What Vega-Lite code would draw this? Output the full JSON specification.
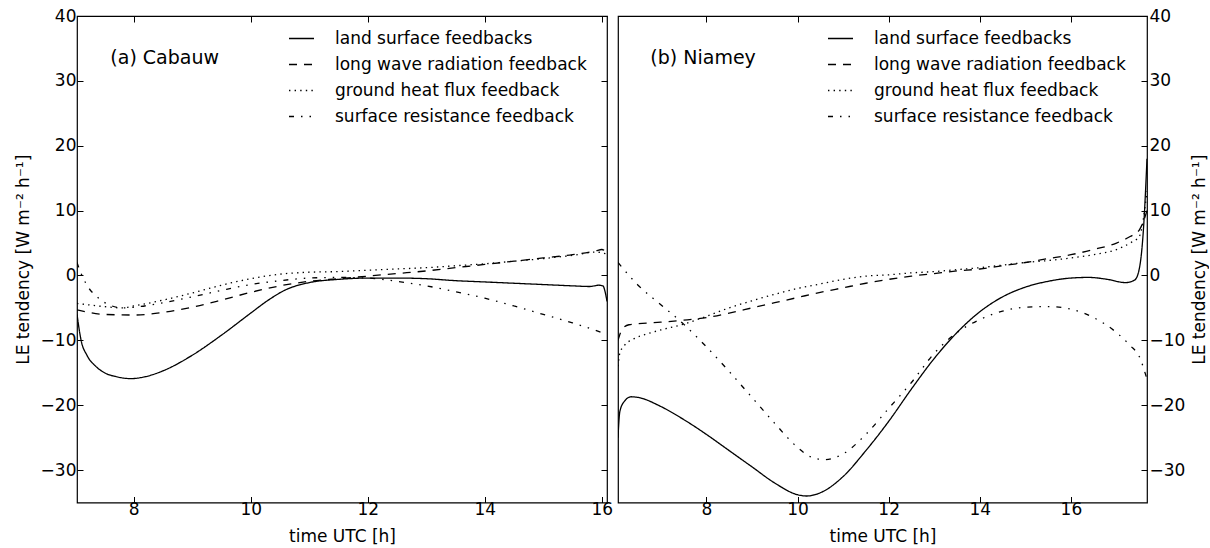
{
  "$schema": "https://vega.github.io/schema/vega-lite/v6.json",
  "background": "white",
  "padding": {"left": 13, "top": 6, "right": 0, "bottom": 0},
  "spacing": 11,
  "bounds": "flush",
  "config": {
    "font": "DejaVu Sans",
    "view": {"stroke": "black", "strokeWidth": 1.2},
    "axis": {"domain": false, "grid": false, "tickColor": "black", "tickSize": -6, "tickWidth": 1, "labelFontSize": 17, "labelColor": "black", "titleFontSize": 17, "titleFontWeight": "normal", "titleColor": "black", "labelFont": "DejaVu Sans", "titleFont": "DejaVu Sans"},
    "legend": {"labelFontSize": 17, "labelFont": "DejaVu Sans", "labelColor": "black", "labelLimit": 0}
  },
  "datasets": {
    "cab": [
      {"s": "land surface feedbacks", "t": 7.03, "v": -6.0},
      {"s": "land surface feedbacks", "t": 7.1, "v": -10.0},
      {"s": "land surface feedbacks", "t": 7.2, "v": -12.3},
      {"s": "land surface feedbacks", "t": 7.35, "v": -14.0},
      {"s": "land surface feedbacks", "t": 7.5, "v": -15.0},
      {"s": "land surface feedbacks", "t": 7.7, "v": -15.6},
      {"s": "land surface feedbacks", "t": 7.95, "v": -15.9},
      {"s": "land surface feedbacks", "t": 8.2, "v": -15.6},
      {"s": "land surface feedbacks", "t": 8.5, "v": -14.7},
      {"s": "land surface feedbacks", "t": 9.0, "v": -12.3},
      {"s": "land surface feedbacks", "t": 9.5, "v": -9.2},
      {"s": "land surface feedbacks", "t": 10.0, "v": -5.8},
      {"s": "land surface feedbacks", "t": 10.3, "v": -3.8},
      {"s": "land surface feedbacks", "t": 10.6, "v": -2.2},
      {"s": "land surface feedbacks", "t": 11.0, "v": -1.1},
      {"s": "land surface feedbacks", "t": 11.5, "v": -0.6},
      {"s": "land surface feedbacks", "t": 12.0, "v": -0.4},
      {"s": "land surface feedbacks", "t": 12.5, "v": -0.4},
      {"s": "land surface feedbacks", "t": 13.0, "v": -0.5},
      {"s": "land surface feedbacks", "t": 13.5, "v": -0.8},
      {"s": "land surface feedbacks", "t": 14.0, "v": -1.0},
      {"s": "land surface feedbacks", "t": 14.5, "v": -1.2},
      {"s": "land surface feedbacks", "t": 15.0, "v": -1.4},
      {"s": "land surface feedbacks", "t": 15.5, "v": -1.6},
      {"s": "land surface feedbacks", "t": 15.8, "v": -1.7},
      {"s": "land surface feedbacks", "t": 15.95, "v": -1.5},
      {"s": "land surface feedbacks", "t": 16.02, "v": -1.6},
      {"s": "land surface feedbacks", "t": 16.06, "v": -2.6},
      {"s": "land surface feedbacks", "t": 16.09, "v": -4.0},
      {"s": "long wave radiation feedback", "t": 7.03, "v": -5.3},
      {"s": "long wave radiation feedback", "t": 7.5, "v": -6.0},
      {"s": "long wave radiation feedback", "t": 8.0, "v": -6.1},
      {"s": "long wave radiation feedback", "t": 8.5, "v": -5.7},
      {"s": "long wave radiation feedback", "t": 9.0, "v": -4.9},
      {"s": "long wave radiation feedback", "t": 9.5, "v": -3.8},
      {"s": "long wave radiation feedback", "t": 10.0, "v": -2.6},
      {"s": "long wave radiation feedback", "t": 10.5, "v": -1.6},
      {"s": "long wave radiation feedback", "t": 11.0, "v": -0.9},
      {"s": "long wave radiation feedback", "t": 11.5, "v": -0.5},
      {"s": "long wave radiation feedback", "t": 12.0, "v": -0.1},
      {"s": "long wave radiation feedback", "t": 12.5, "v": 0.3},
      {"s": "long wave radiation feedback", "t": 13.0, "v": 0.7},
      {"s": "long wave radiation feedback", "t": 13.5, "v": 1.2},
      {"s": "long wave radiation feedback", "t": 14.0, "v": 1.7},
      {"s": "long wave radiation feedback", "t": 14.5, "v": 2.2},
      {"s": "long wave radiation feedback", "t": 15.0, "v": 2.7},
      {"s": "long wave radiation feedback", "t": 15.5, "v": 3.2},
      {"s": "long wave radiation feedback", "t": 15.9, "v": 3.8},
      {"s": "long wave radiation feedback", "t": 16.0, "v": 4.0},
      {"s": "long wave radiation feedback", "t": 16.09, "v": 3.6},
      {"s": "ground heat flux feedback", "t": 7.03, "v": -4.3},
      {"s": "ground heat flux feedback", "t": 7.5, "v": -4.8},
      {"s": "ground heat flux feedback", "t": 7.8, "v": -5.0},
      {"s": "ground heat flux feedback", "t": 8.0, "v": -4.7},
      {"s": "ground heat flux feedback", "t": 8.5, "v": -3.8},
      {"s": "ground heat flux feedback", "t": 9.0, "v": -2.7},
      {"s": "ground heat flux feedback", "t": 9.5, "v": -1.5},
      {"s": "ground heat flux feedback", "t": 10.0, "v": -0.5},
      {"s": "ground heat flux feedback", "t": 10.5, "v": 0.2},
      {"s": "ground heat flux feedback", "t": 11.0, "v": 0.5},
      {"s": "ground heat flux feedback", "t": 11.5, "v": 0.6},
      {"s": "ground heat flux feedback", "t": 12.0, "v": 0.8},
      {"s": "ground heat flux feedback", "t": 12.5, "v": 1.0},
      {"s": "ground heat flux feedback", "t": 13.0, "v": 1.2},
      {"s": "ground heat flux feedback", "t": 13.5, "v": 1.5},
      {"s": "ground heat flux feedback", "t": 14.0, "v": 1.8},
      {"s": "ground heat flux feedback", "t": 14.5, "v": 2.2},
      {"s": "ground heat flux feedback", "t": 15.0, "v": 2.6},
      {"s": "ground heat flux feedback", "t": 15.5, "v": 3.1},
      {"s": "ground heat flux feedback", "t": 15.9, "v": 3.6},
      {"s": "ground heat flux feedback", "t": 16.09, "v": 3.3},
      {"s": "surface resistance feedback", "t": 7.03, "v": 2.0},
      {"s": "surface resistance feedback", "t": 7.1, "v": 0.3},
      {"s": "surface resistance feedback", "t": 7.2, "v": -1.5},
      {"s": "surface resistance feedback", "t": 7.4, "v": -3.5},
      {"s": "surface resistance feedback", "t": 7.6, "v": -4.6},
      {"s": "surface resistance feedback", "t": 7.8, "v": -5.0},
      {"s": "surface resistance feedback", "t": 8.0, "v": -4.9},
      {"s": "surface resistance feedback", "t": 8.5, "v": -4.2},
      {"s": "surface resistance feedback", "t": 9.0, "v": -3.3},
      {"s": "surface resistance feedback", "t": 9.5, "v": -2.3},
      {"s": "surface resistance feedback", "t": 10.0, "v": -1.4},
      {"s": "surface resistance feedback", "t": 10.5, "v": -0.8},
      {"s": "surface resistance feedback", "t": 11.0, "v": -0.4},
      {"s": "surface resistance feedback", "t": 11.5, "v": -0.3},
      {"s": "surface resistance feedback", "t": 12.0, "v": -0.4},
      {"s": "surface resistance feedback", "t": 12.5, "v": -0.9},
      {"s": "surface resistance feedback", "t": 13.0, "v": -1.6},
      {"s": "surface resistance feedback", "t": 13.5, "v": -2.5},
      {"s": "surface resistance feedback", "t": 14.0, "v": -3.5},
      {"s": "surface resistance feedback", "t": 14.5, "v": -4.7},
      {"s": "surface resistance feedback", "t": 15.0, "v": -6.0},
      {"s": "surface resistance feedback", "t": 15.5, "v": -7.3},
      {"s": "surface resistance feedback", "t": 16.0, "v": -8.8},
      {"s": "surface resistance feedback", "t": 16.09, "v": -9.1}
    ],
    "nia": [
      {"s": "land surface feedbacks", "t": 6.06, "v": -25.0},
      {"s": "land surface feedbacks", "t": 6.1, "v": -21.0},
      {"s": "land surface feedbacks", "t": 6.2, "v": -19.4},
      {"s": "land surface feedbacks", "t": 6.35, "v": -18.7},
      {"s": "land surface feedbacks", "t": 6.5, "v": -18.8},
      {"s": "land surface feedbacks", "t": 7.0, "v": -20.2},
      {"s": "land surface feedbacks", "t": 7.5, "v": -22.2},
      {"s": "land surface feedbacks", "t": 8.0, "v": -24.5},
      {"s": "land surface feedbacks", "t": 8.5, "v": -27.0},
      {"s": "land surface feedbacks", "t": 9.0, "v": -29.5},
      {"s": "land surface feedbacks", "t": 9.5, "v": -32.0},
      {"s": "land surface feedbacks", "t": 10.0, "v": -33.8},
      {"s": "land surface feedbacks", "t": 10.2, "v": -34.0},
      {"s": "land surface feedbacks", "t": 10.5, "v": -33.5},
      {"s": "land surface feedbacks", "t": 11.0, "v": -31.0},
      {"s": "land surface feedbacks", "t": 11.5, "v": -27.0},
      {"s": "land surface feedbacks", "t": 12.0, "v": -22.5},
      {"s": "land surface feedbacks", "t": 12.5, "v": -17.5},
      {"s": "land surface feedbacks", "t": 13.0, "v": -12.8},
      {"s": "land surface feedbacks", "t": 13.5, "v": -8.8},
      {"s": "land surface feedbacks", "t": 14.0, "v": -5.6},
      {"s": "land surface feedbacks", "t": 14.5, "v": -3.3},
      {"s": "land surface feedbacks", "t": 15.0, "v": -1.8},
      {"s": "land surface feedbacks", "t": 15.5, "v": -0.9},
      {"s": "land surface feedbacks", "t": 16.0, "v": -0.4},
      {"s": "land surface feedbacks", "t": 16.4, "v": -0.3},
      {"s": "land surface feedbacks", "t": 16.8, "v": -0.6},
      {"s": "land surface feedbacks", "t": 17.2, "v": -1.1},
      {"s": "land surface feedbacks", "t": 17.4, "v": -0.7},
      {"s": "land surface feedbacks", "t": 17.5, "v": 1.0},
      {"s": "land surface feedbacks", "t": 17.6, "v": 8.0},
      {"s": "land surface feedbacks", "t": 17.67, "v": 18.0},
      {"s": "long wave radiation feedback", "t": 6.06, "v": -10.0},
      {"s": "long wave radiation feedback", "t": 6.15, "v": -8.3},
      {"s": "long wave radiation feedback", "t": 6.3, "v": -7.6},
      {"s": "long wave radiation feedback", "t": 7.0, "v": -7.2},
      {"s": "long wave radiation feedback", "t": 7.5, "v": -6.9},
      {"s": "long wave radiation feedback", "t": 8.0, "v": -6.5},
      {"s": "long wave radiation feedback", "t": 8.5, "v": -5.8},
      {"s": "long wave radiation feedback", "t": 9.0, "v": -5.0},
      {"s": "long wave radiation feedback", "t": 9.5, "v": -4.2},
      {"s": "long wave radiation feedback", "t": 10.0, "v": -3.4},
      {"s": "long wave radiation feedback", "t": 10.5, "v": -2.6},
      {"s": "long wave radiation feedback", "t": 11.0, "v": -1.9},
      {"s": "long wave radiation feedback", "t": 11.5, "v": -1.2},
      {"s": "long wave radiation feedback", "t": 12.0, "v": -0.6},
      {"s": "long wave radiation feedback", "t": 12.5, "v": -0.1},
      {"s": "long wave radiation feedback", "t": 13.0, "v": 0.3},
      {"s": "long wave radiation feedback", "t": 13.5, "v": 0.7},
      {"s": "long wave radiation feedback", "t": 14.0, "v": 1.0},
      {"s": "long wave radiation feedback", "t": 14.5, "v": 1.5},
      {"s": "long wave radiation feedback", "t": 15.0, "v": 2.0},
      {"s": "long wave radiation feedback", "t": 15.5, "v": 2.6},
      {"s": "long wave radiation feedback", "t": 16.0, "v": 3.2},
      {"s": "long wave radiation feedback", "t": 16.5, "v": 4.0},
      {"s": "long wave radiation feedback", "t": 17.0, "v": 5.0},
      {"s": "long wave radiation feedback", "t": 17.3, "v": 6.0},
      {"s": "long wave radiation feedback", "t": 17.5, "v": 7.0},
      {"s": "long wave radiation feedback", "t": 17.6, "v": 8.5},
      {"s": "long wave radiation feedback", "t": 17.67, "v": 10.0},
      {"s": "ground heat flux feedback", "t": 6.06, "v": -14.0},
      {"s": "ground heat flux feedback", "t": 6.1, "v": -12.0},
      {"s": "ground heat flux feedback", "t": 6.2, "v": -10.8},
      {"s": "ground heat flux feedback", "t": 6.4, "v": -9.8},
      {"s": "ground heat flux feedback", "t": 6.7, "v": -9.0},
      {"s": "ground heat flux feedback", "t": 7.0, "v": -8.4},
      {"s": "ground heat flux feedback", "t": 7.5, "v": -7.5},
      {"s": "ground heat flux feedback", "t": 8.0, "v": -6.3},
      {"s": "ground heat flux feedback", "t": 8.5, "v": -5.0},
      {"s": "ground heat flux feedback", "t": 9.0, "v": -3.9},
      {"s": "ground heat flux feedback", "t": 9.5, "v": -2.9},
      {"s": "ground heat flux feedback", "t": 10.0, "v": -2.0},
      {"s": "ground heat flux feedback", "t": 10.5, "v": -1.3},
      {"s": "ground heat flux feedback", "t": 11.0, "v": -0.6},
      {"s": "ground heat flux feedback", "t": 11.5, "v": -0.1},
      {"s": "ground heat flux feedback", "t": 12.0, "v": 0.1},
      {"s": "ground heat flux feedback", "t": 12.5, "v": 0.4},
      {"s": "ground heat flux feedback", "t": 13.0, "v": 0.6},
      {"s": "ground heat flux feedback", "t": 13.5, "v": 0.9},
      {"s": "ground heat flux feedback", "t": 14.0, "v": 1.2},
      {"s": "ground heat flux feedback", "t": 14.5, "v": 1.6},
      {"s": "ground heat flux feedback", "t": 15.0, "v": 2.0},
      {"s": "ground heat flux feedback", "t": 15.5, "v": 2.3},
      {"s": "ground heat flux feedback", "t": 16.0, "v": 2.7},
      {"s": "ground heat flux feedback", "t": 16.5, "v": 3.2},
      {"s": "ground heat flux feedback", "t": 17.0, "v": 4.0},
      {"s": "ground heat flux feedback", "t": 17.3, "v": 5.0},
      {"s": "ground heat flux feedback", "t": 17.5, "v": 6.0},
      {"s": "ground heat flux feedback", "t": 17.67, "v": 13.0},
      {"s": "surface resistance feedback", "t": 6.06, "v": 2.0},
      {"s": "surface resistance feedback", "t": 6.5, "v": -1.5},
      {"s": "surface resistance feedback", "t": 7.0, "v": -4.5},
      {"s": "surface resistance feedback", "t": 7.5, "v": -7.5},
      {"s": "surface resistance feedback", "t": 8.0, "v": -11.0},
      {"s": "surface resistance feedback", "t": 8.5, "v": -14.8},
      {"s": "surface resistance feedback", "t": 9.0, "v": -18.8},
      {"s": "surface resistance feedback", "t": 9.5, "v": -22.8},
      {"s": "surface resistance feedback", "t": 10.0, "v": -26.5},
      {"s": "surface resistance feedback", "t": 10.3, "v": -28.0},
      {"s": "surface resistance feedback", "t": 10.6, "v": -28.4},
      {"s": "surface resistance feedback", "t": 11.0, "v": -27.5},
      {"s": "surface resistance feedback", "t": 11.5, "v": -24.5},
      {"s": "surface resistance feedback", "t": 12.0, "v": -20.5},
      {"s": "surface resistance feedback", "t": 12.5, "v": -16.5},
      {"s": "surface resistance feedback", "t": 13.0, "v": -12.0},
      {"s": "surface resistance feedback", "t": 13.5, "v": -8.8},
      {"s": "surface resistance feedback", "t": 14.0, "v": -6.8},
      {"s": "surface resistance feedback", "t": 14.5, "v": -5.5},
      {"s": "surface resistance feedback", "t": 15.0, "v": -4.9},
      {"s": "surface resistance feedback", "t": 15.5, "v": -4.8},
      {"s": "surface resistance feedback", "t": 16.0, "v": -5.2},
      {"s": "surface resistance feedback", "t": 16.5, "v": -6.5},
      {"s": "surface resistance feedback", "t": 17.0, "v": -8.8},
      {"s": "surface resistance feedback", "t": 17.3, "v": -10.8},
      {"s": "surface resistance feedback", "t": 17.5, "v": -12.5},
      {"s": "surface resistance feedback", "t": 17.67, "v": -16.0}
    ]
  },
  "hconcat": [
    {
      "width": 530,
      "height": 486.5,
      "layer": [
        {
          "data": {"name": "cab"},
          "mark": {"type": "line", "color": "black", "strokeWidth": 1.3, "clip": true, "interpolate": "monotone"},
          "encoding": {
            "x": {"field": "t", "type": "quantitative", "scale": {"domain": [7.03, 16.09], "nice": false, "zero": false}, "axis": {"orient": "bottom", "values": [8, 10, 12, 14, 16], "title": "time UTC [h]", "labelPadding": 5, "titlePadding": 11}},
            "y": {"field": "v", "type": "quantitative", "scale": {"domain": [-35, 40], "nice": false}, "axis": {"orient": "left", "values": [-30, -20, -10, 0, 10, 20, 30, 40], "title": "LE tendency [W m⁻² h⁻¹]", "labelPadding": 7, "titlePadding": 8}},
            "strokeDash": {"field": "s", "type": "nominal", "scale": {"domain": ["land surface feedbacks", "long wave radiation feedback", "ground heat flux feedback", "surface resistance feedback"], "range": [[1, 0], [8, 7], [1.4, 4.2], [5, 7, 1.5, 7, 1.5, 7]]}, "legend": {"orient": "none", "legendX": 211, "legendY": 9, "title": null, "symbolType": "stroke", "symbolSize": 625, "symbolStrokeColor": "black", "symbolStrokeWidth": 1.3, "labelOffset": 20, "rowPadding": 4, "padding": 0}}
          }
        },
        {
          "data": {"values": [{}]},
          "mark": {"type": "text", "align": "left", "baseline": "middle", "fontSize": 19, "font": "DejaVu Sans", "color": "black"},
          "encoding": {
            "x": {"datum": 7.6, "type": "quantitative", "axis": {"orient": "top", "values": [8, 10, 12, 14, 16], "labels": false, "title": null}},
            "y": {"datum": 33.5, "type": "quantitative", "axis": {"orient": "right", "values": [-30, -20, -10, 0, 10, 20, 30, 40], "labels": false, "title": null}},
            "text": {"value": "(a) Cabauw"}
          }
        }
      ],
      "resolve": {"axis": {"x": "independent", "y": "independent"}}
    },
    {
      "width": 529,
      "height": 486.5,
      "layer": [
        {
          "data": {"name": "nia"},
          "mark": {"type": "line", "color": "black", "strokeWidth": 1.3, "clip": true, "interpolate": "monotone"},
          "encoding": {
            "x": {"field": "t", "type": "quantitative", "scale": {"domain": [6.06, 17.67], "nice": false, "zero": false}, "axis": {"orient": "bottom", "values": [8, 10, 12, 14, 16], "title": "time UTC [h]", "labelPadding": 5, "titlePadding": 11}},
            "y": {"field": "v", "type": "quantitative", "scale": {"domain": [-35, 40], "nice": false}, "axis": {"orient": "right", "values": [-30, -20, -10, 0, 10, 20, 30, 40], "title": "LE tendency [W m⁻² h⁻¹]", "titleAngle": 270, "titleBaseline": "top", "labelPadding": 8, "titlePadding": 7}},
            "strokeDash": {"field": "s", "type": "nominal", "scale": {"domain": ["land surface feedbacks", "long wave radiation feedback", "ground heat flux feedback", "surface resistance feedback"], "range": [[1, 0], [8, 7], [1.4, 4.2], [5, 7, 1.5, 7, 1.5, 7]]}, "legend": {"orient": "none", "legendX": 209, "legendY": 9, "title": null, "symbolType": "stroke", "symbolSize": 625, "symbolStrokeColor": "black", "symbolStrokeWidth": 1.3, "labelOffset": 20, "rowPadding": 4, "padding": 0}}
          }
        },
        {
          "data": {"values": [{}]},
          "mark": {"type": "text", "align": "left", "baseline": "middle", "fontSize": 19, "font": "DejaVu Sans", "color": "black"},
          "encoding": {
            "x": {"datum": 6.77, "type": "quantitative", "axis": {"orient": "top", "values": [8, 10, 12, 14, 16], "labels": false, "title": null}},
            "y": {"datum": 33.5, "type": "quantitative"},
            "text": {"value": "(b) Niamey"}
          }
        }
      ],
      "resolve": {"axis": {"x": "independent"}}
    }
  ],
  "resolve": {"legend": {"strokeDash": "independent"}, "scale": {"x": "independent", "strokeDash": "independent"}}
}
